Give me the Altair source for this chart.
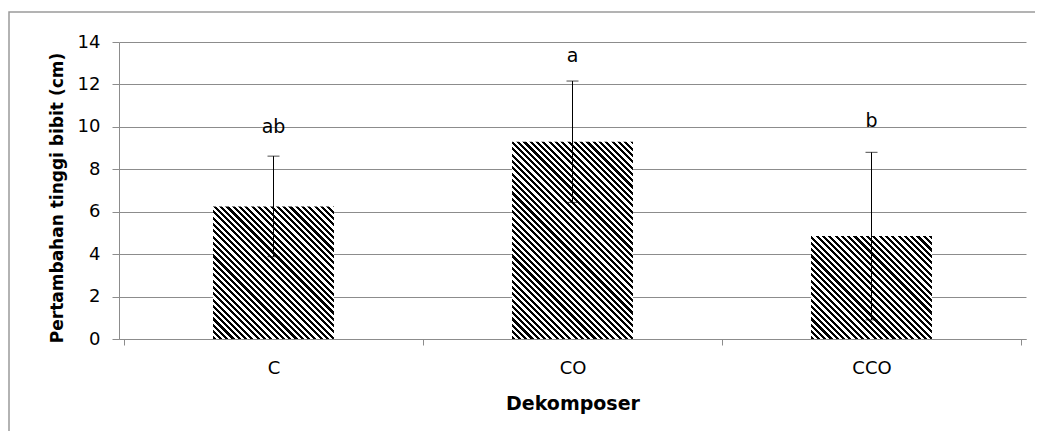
import altair as alt
import pandas as pd

# ---- data ----
categories = ["C", "CO", "CCO"]
means = [6.25, 9.3, 4.85]
errors = [2.37, 2.86, 3.95]
letters = ["ab", "a", "b"]
letter_pos = [9.71, 13.05, 10.0]
y_ticks = [0, 2, 4, 6, 8, 10, 12, 14]

W, H = 907, 297
YMAX = 14
BAR_W = W / len(categories) * 0.4
STRIPE = 6.3
FONT = "DejaVu Sans"
GRID = "#8c8c8c"

df = pd.DataFrame({
    "cat": categories,
    "pos": [i + 0.5 for i in range(len(categories))],
    "mean": means,
    "lo": [m - e for m, e in zip(means, errors)],
    "hi": [m + e for m, e in zip(means, errors)],
    "letter": letters,
    "lpos": letter_pos,
})


def stripes(value):
    w = BAR_W
    h = value / YMAX * H
    k = (w + h) / (w * w + h * h)
    dt = STRIPE / (w + h)
    stops = []
    i = 0
    while i * dt < 1:
        a = i * dt
        b = min(a + dt / 2, 1)
        c = min(a + dt, 1)
        stops += [
            {"offset": a, "color": "#000000"},
            {"offset": b, "color": "#000000"},
            {"offset": b, "color": "#ffffff"},
            {"offset": c, "color": "#ffffff"},
        ]
        i += 1
    return {"gradient": "linear", "x1": 0, "y1": 1, "x2": k * w, "y2": 1 - k * h, "stops": stops}


xscale = alt.Scale(domain=[0, len(categories)], nice=False, zero=False)
yscale = alt.Scale(domain=[0, YMAX], nice=False)

cat_js = "[" + ",".join("'" + c + "'" for c in categories) + "]"
x_axis = alt.Axis(
    values=[i / 2 for i in range(2 * len(categories) + 1)],
    labelExpr=f"datum.value % 1 == 0 ? '' : {cat_js}[floor(datum.value)]",
    tickOpacity={"condition": {"test": "datum.value % 1 != 0", "value": 0}, "value": 1},
    labelOverlap=False, labelFlush=False,
    grid=False, tickSize=6, labelPadding=14, domainColor=GRID, tickColor=GRID,
    labelFont=FONT, labelFontSize=18, labelColor="#000",
    title="Dekomposer", titleFont=FONT, titleFontSize=19, titleFontWeight="bold",
    titleColor="#000", titleY=70, titleBaseline="alphabetic",
)
y_axis = alt.Axis(
    values=y_ticks, grid=True, gridColor=GRID, domainColor=GRID, tickColor=GRID,
    tickSize=7, labelPadding=12, labelFont=FONT, labelFontSize=18, labelColor="#000",
    title="Pertambahan tinggi bibit (cm)", titleFont=FONT, titleFontSize=17,
    titleFontWeight="bold", titleColor="#000", titleX=-56.5, titleY=155.5,
    titleAngle=-90, titleBaseline="alphabetic", titleAlign="center",
)

base = alt.Chart(df)

bars = []
for c, m in zip(categories, means):
    bars.append(
        base.transform_filter(alt.datum.cat == c)
        .mark_bar(fill=stripes(m), width=BAR_W, stroke=None)
        .encode(
            x=alt.X("pos:Q", scale=xscale, axis=x_axis),
            y=alt.Y("mean:Q", scale=yscale, axis=y_axis),
        )
    )

err = base.mark_rule(color="#000", strokeWidth=1).encode(
    x=alt.X("pos:Q", scale=xscale), y=alt.Y("lo:Q", scale=yscale), y2="hi:Q"
)
cap_hi = base.mark_tick(color="#000", orient="horizontal", size=12, thickness=1).encode(
    x=alt.X("pos:Q", scale=xscale), y=alt.Y("hi:Q", scale=yscale)
)
cap_lo = base.mark_tick(color="#000", orient="horizontal", size=12, thickness=1).encode(
    x=alt.X("pos:Q", scale=xscale), y=alt.Y("lo:Q", scale=yscale)
)
labels = base.mark_text(font=FONT, fontSize=19, baseline="alphabetic", color="#000").encode(
    x=alt.X("pos:Q", scale=xscale), y=alt.Y("lpos:Q", scale=yscale), text="letter:N"
)

frame = alt.Chart(pd.DataFrame({"f": [0]})).mark_rect(
    fill="transparent", stroke="#9a9a9a", strokeWidth=1.5
).encode(
    x=alt.value(-110), x2=alt.value(W + 60), y=alt.value(-30), y2=alt.value(H + 200)
)

chart = alt.layer(frame, *bars, err, cap_hi, cap_lo, labels).properties(
    width=W, height=H,
    padding={"left": 111, "top": 34, "right": 9, "bottom": 92},
    autosize=alt.AutoSizeParams(type="none"),
).configure_view(stroke=None)

chart.save("out.html", embed_options={"renderer": "svg", "actions": False})
